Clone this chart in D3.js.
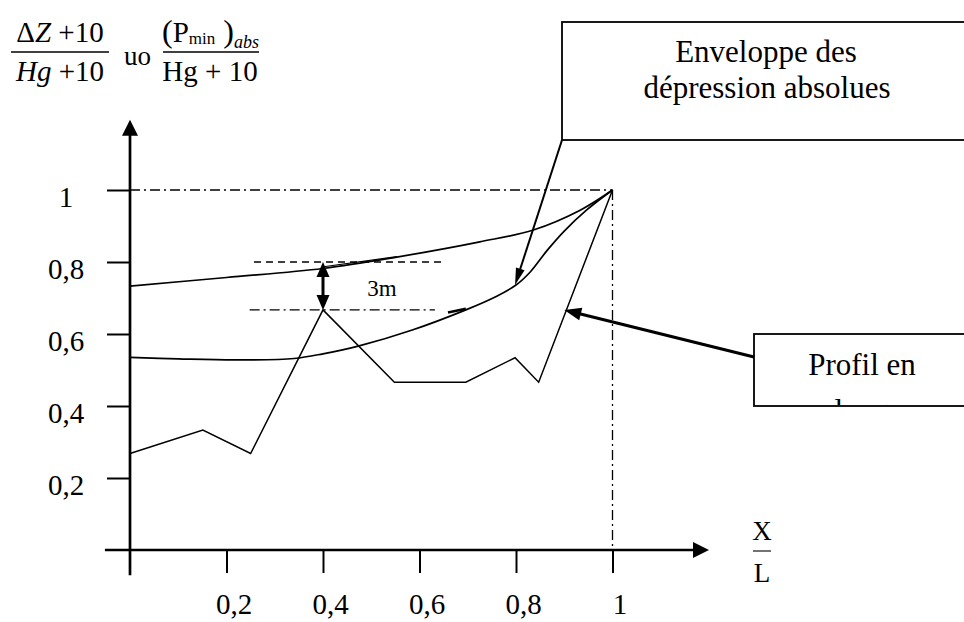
<!DOCTYPE html>
<html>
<head>
<meta charset="utf-8">
<script src="https://cdn.jsdelivr.net/npm/d3@7"></script>
<style>
  html, body { margin: 0; padding: 0; background: #fff; }
  svg { display: block; }
  text { font-family: "Liberation Serif", "Times New Roman", serif; fill: #000; }
</style>
</head>
<body>
<svg id="chart" width="964" height="622"></svg>
<script>
// ---------- data ----------
const xTicks = [0.2, 0.4, 0.6, 0.8, 1];
const yTicks = [0.2, 0.4, 0.6, 0.8, 1];
const xTickLabels = ["0,2", "0,4", "0,6", "0,8", "1"];
const yTickLabels = ["0,2", "0,4", "0,6", "0,8", "1"];

// Profil en long (ground profile)
const profileX = [0, 0.151, 0.25, 0.4, 0.548, 0.696, 0.798, 0.847, 1];
const profileY = [0.268, 0.333, 0.268, 0.667, 0.466, 0.466, 0.534, 0.466, 1];

// upper envelope
const upperX = [0, 0.2, 0.4, 0.55, 0.725, 0.836, 0.933, 1];
const upperY = [0.733, 0.757, 0.782, 0.813, 0.856, 0.889, 0.944, 1];

// Enveloppe des dépressions absolues (S-curve)
const lowerX = [0, 0.1, 0.22, 0.34, 0.4, 0.475, 0.585, 0.696, 0.76, 0.8, 0.83, 0.865, 0.9, 0.946, 1];
const lowerY = [0.535, 0.531, 0.528, 0.532, 0.545, 0.567, 0.611, 0.667, 0.705, 0.736, 0.773, 0.833, 0.886, 0.944, 1];

// 3 m annotation levels
const level3mTop = 0.8, level3mBottom = 0.667, level3mX = 0.4;

// ---------- scales ----------
const svg = d3.select("#chart");
const x = d3.scaleLinear().domain([0, 1]).range([130, 612.5]);
const y = d3.scaleLinear().domain([0, 1]).range([550, 190]);

const black = "#000";

function arrowHead(g, tip, from, len, width) {
  const dx = tip[0] - from[0], dy = tip[1] - from[1];
  const d = Math.hypot(dx, dy);
  const ux = dx / d, uy = dy / d;
  const bx = tip[0] - ux * len, by = tip[1] - uy * len;
  const px = -uy * width / 2, py = ux * width / 2;
  g.append("path")
    .attr("d", `M${tip[0]},${tip[1]}L${bx + px},${by + py}L${bx - px},${by - py}Z`)
    .attr("fill", black).attr("stroke", "none");
}

// ---------- reference dash-dot lines ----------
svg.append("line")
  .attr("x1", x(0)).attr("x2", x(1)).attr("y1", y(1)).attr("y2", y(1))
  .attr("stroke", black).attr("stroke-width", 1.3).attr("stroke-dasharray", "10,4,2,4");
svg.append("line")
  .attr("x1", x(1)).attr("x2", x(1)).attr("y1", y(1)).attr("y2", y(0))
  .attr("stroke", black).attr("stroke-width", 1.3).attr("stroke-dasharray", "10,4,2,4");

// ---------- axes ----------
const fmtX = d => xTickLabels[xTicks.indexOf(d)];
const fmtY = d => yTickLabels[yTicks.indexOf(d)];

const gx = svg.append("g").attr("transform", `translate(0,${y(0)})`)
  .call(d3.axisBottom(x).tickValues(xTicks).tickFormat(fmtX).tickSize(23).tickPadding(20));
gx.select(".domain").remove();
gx.selectAll(".tick line").attr("stroke", black).attr("stroke-width", 2);
gx.selectAll(".tick text")
  .attr("font-family", "Liberation Serif, serif").attr("font-size", 29)
  .attr("dy", "0.71em").attr("dx", 7);

const gy = svg.append("g").attr("transform", `translate(${x(0)},0)`)
  .call(d3.axisLeft(y).tickValues(yTicks).tickFormat(fmtY).tickSize(23).tickPadding(41));
gy.select(".domain").remove();
gy.selectAll(".tick line").attr("stroke", black).attr("stroke-width", 2);
gy.selectAll(".tick text")
  .attr("font-family", "Liberation Serif, serif").attr("font-size", 29)
  .attr("text-anchor", "middle").attr("dy", "0.57em");

// axis lines with arrows
const axG = svg.append("g");
axG.append("line").attr("x1", x(-0.052)).attr("x2", x(1.2) - 12).attr("y1", y(0)).attr("y2", y(0))
  .attr("stroke", black).attr("stroke-width", 2.7);
arrowHead(axG, [x(1.2), y(0)], [x(0), y(0)], 16, 16);
axG.append("line").attr("x1", x(0)).attr("x2", x(0)).attr("y1", y(-0.07)).attr("y2", y(1.195) + 12)
  .attr("stroke", black).attr("stroke-width", 2.7);
arrowHead(axG, [x(0), y(1.195)], [x(0), y(0)], 16, 16);

// ---------- curves ----------
const upper = upperX.map((v, i) => [v, upperY[i]]);
const lower = lowerX.map((v, i) => [v, lowerY[i]]);
const profile = profileX.map((v, i) => [v, profileY[i]]);

const smooth = d3.line().x(d => x(d[0])).y(d => y(d[1])).curve(d3.curveCatmullRom.alpha(0.5));
const straight = d3.line().x(d => x(d[0])).y(d => y(d[1]));

svg.append("path").attr("d", smooth(upper)).attr("fill", "none").attr("stroke", black).attr("stroke-width", 1.7);
svg.append("path").attr("d", smooth(lower)).attr("fill", "none").attr("stroke", black).attr("stroke-width", 1.7);
svg.append("path").attr("d", straight(profile)).attr("fill", "none").attr("stroke", black).attr("stroke-width", 1.5);

// small drawing overlaps present in the original
svg.append("path").attr("d", straight([[0.401, 0.787], [0.553, 0.815]]))
  .attr("fill", "none").attr("stroke", black).attr("stroke-width", 1.1);
svg.append("path").attr("d", straight([[0.659, 0.660], [0.696, 0.670]]))
  .attr("fill", "none").attr("stroke", black).attr("stroke-width", 2.6);

// ---------- 3 m annotation ----------
svg.append("line")
  .attr("x1", x(0.257)).attr("x2", x(0.651)).attr("y1", y(level3mTop)).attr("y2", y(level3mTop))
  .attr("stroke", black).attr("stroke-width", 1.3).attr("stroke-dasharray", "7,5");
svg.append("line")
  .attr("x1", x(0.248)).attr("x2", x(0.632)).attr("y1", y(level3mBottom)).attr("y2", y(level3mBottom))
  .attr("stroke", black).attr("stroke-width", 1.3).attr("stroke-dasharray", "10,4,2,4");
const a3 = svg.append("g");
a3.append("line").attr("x1", x(level3mX)).attr("x2", x(level3mX))
  .attr("y1", y(level3mTop) + 10).attr("y2", y(level3mBottom) - 10)
  .attr("stroke", black).attr("stroke-width", 3);
arrowHead(a3, [x(level3mX), y(level3mTop)], [x(level3mX), y(level3mBottom)], 15, 13);
arrowHead(a3, [x(level3mX), y(level3mBottom)], [x(level3mX), y(level3mTop)], 15, 13);
svg.append("text").attr("x", 382).attr("y", 296).attr("text-anchor", "middle")
  .attr("font-size", 23).text("3m");

// ---------- boxes ----------
svg.append("rect").attr("x", 562).attr("y", 22).attr("width", 430).attr("height", 118)
  .attr("fill", "#fff").attr("stroke", black).attr("stroke-width", 1.8);
svg.append("text").attr("x", 766).attr("y", 62).attr("text-anchor", "middle")
  .attr("font-size", 31).text("Enveloppe des");
svg.append("text").attr("x", 767).attr("y", 98).attr("text-anchor", "middle")
  .attr("font-size", 31).text("dépression absolues");

svg.append("defs").append("clipPath").attr("id", "boxclip")
  .append("rect").attr("x", 754).attr("y", 334).attr("width", 240).attr("height", 71);
svg.append("rect").attr("x", 754).attr("y", 334).attr("width", 240).attr("height", 72)
  .attr("fill", "#fff").attr("stroke", black).attr("stroke-width", 1.8);
const bt = svg.append("g").attr("clip-path", "url(#boxclip)");
bt.append("text").attr("x", 862).attr("y", 375).attr("text-anchor", "middle")
  .attr("font-size", 31).text("Profil en");
bt.append("text").attr("x", 862).attr("y", 421).attr("text-anchor", "middle")
  .attr("font-size", 31).text("long");

// ---------- annotation arrows ----------
const ann = svg.append("g");
const tip1 = [x(0.798), y(0.736)];
ann.append("line").attr("x1", 562).attr("y1", 140)
  .attr("x2", tip1[0] + (562 - tip1[0]) * 0.1).attr("y2", tip1[1] + (140 - tip1[1]) * 0.1)
  .attr("stroke", black).attr("stroke-width", 2);
arrowHead(ann, tip1, [562, 140], 17, 9);

const tip2 = [x(0.9), y(0.667)];
ann.append("line").attr("x1", 754).attr("y1", 357)
  .attr("x2", tip2[0] + (754 - tip2[0]) * 0.07).attr("y2", tip2[1] + (357 - tip2[1]) * 0.07)
  .attr("stroke", black).attr("stroke-width", 3);
arrowHead(ann, tip2, [754, 357], 17, 13);

// ---------- X/L label ----------
const xl = svg.append("g");
xl.append("text").attr("x", 762).attr("y", 540).attr("text-anchor", "middle")
  .attr("font-family", "Liberation Sans Narrow, Liberation Sans, sans-serif").attr("font-size", 27).text("X");
xl.append("line").attr("x1", 753).attr("x2", 771).attr("y1", 551).attr("y2", 551)
  .attr("stroke", "#444").attr("stroke-width", 1.5);
xl.append("text").attr("x", 762).attr("y", 582).attr("text-anchor", "middle")
  .attr("font-family", "Liberation Sans Narrow, Liberation Sans, sans-serif").attr("font-size", 27).text("L");

// ---------- y-axis title (formula) ----------
const f = svg.append("g").attr("font-size", 29);
const n1 = f.append("text").attr("x", 60).attr("y", 42).attr("text-anchor", "middle");
n1.append("tspan").text("\u0394");
n1.append("tspan").attr("font-style", "italic").text("Z");
n1.append("tspan").text(" +10");
f.append("line").attr("x1", 11).attr("x2", 109).attr("y1", 52).attr("y2", 52)
  .attr("stroke", black).attr("stroke-width", 1.5);
const d1 = f.append("text").attr("x", 60).attr("y", 81).attr("text-anchor", "middle");
d1.append("tspan").attr("font-style", "italic").text("Hg");
d1.append("tspan").text(" +10");

f.append("text").attr("x", 124).attr("y", 65).attr("font-size", 27).text("uo");

const n2 = f.append("text").attr("x", 162).attr("y", 42);
n2.append("tspan").attr("font-size", 32).text("(");
n2.append("tspan").text("P");
n2.append("tspan").attr("font-size", 17).attr("dy", 2).text("min");
n2.append("tspan").attr("font-size", 32).attr("dy", -2).text(" )");
n2.append("tspan").attr("font-size", 18).attr("font-style", "italic").attr("dy", 6).text("abs");
f.append("line").attr("x1", 163).attr("x2", 259).attr("y1", 52).attr("y2", 52)
  .attr("stroke", black).attr("stroke-width", 1.5);
f.append("text").attr("x", 210).attr("y", 81).attr("text-anchor", "middle").text("Hg + 10");
</script>
</body>
</html>
